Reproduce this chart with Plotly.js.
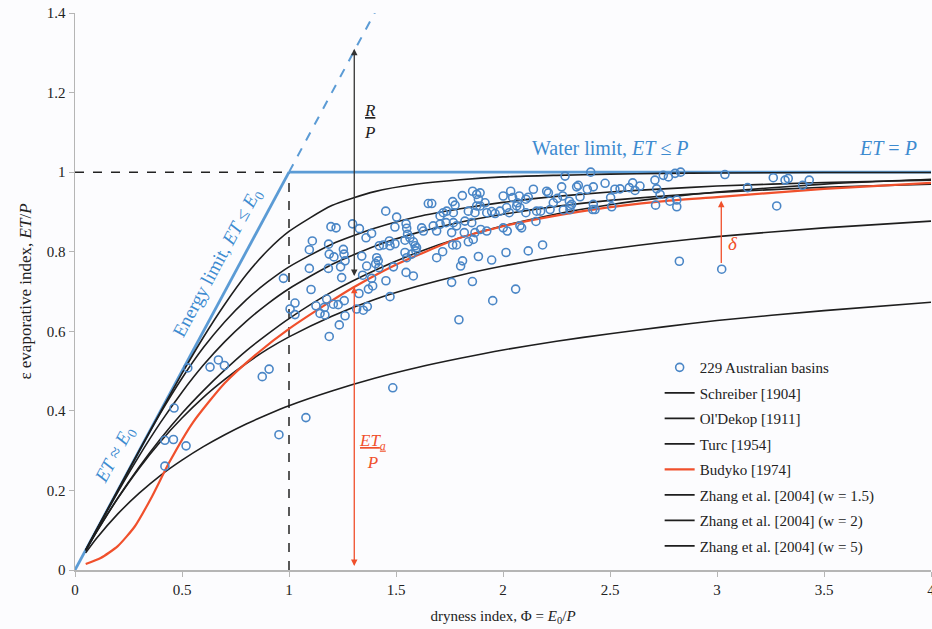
<!DOCTYPE html>
<html><head><meta charset="utf-8">
<script src="https://cdn.plot.ly/plotly-3.0.1.min.js"></script>
<style>html,body{margin:0;padding:0;background:#fcfcfe;}#chart{width:932px;height:629px;}</style>
</head><body><div id="chart"></div>
<script>
// ---- Observed basins (dryness index, evaporative index) ----
const basinPhi = [0.42,0.46,0.42,0.519,0.463,0.527,0.631,0.67,0.698,0.875,0.907,0.953,1.079,1.485,
1.452,1.503,1.196,1.22,1.297,1.329,1.495,1.547,1.55,1.554,1.62,1.628,1.109,1.36,1.386,1.095,1.185,1.188,1.21,1.254,1.257,1.262,1.34,1.422,1.441,1.469,1.472,1.495,1.542,1.565,1.581,1.589,1.593,1.573,1.596,1.542,1.55,1.41,1.417,1.405,1.42,1.363,1.095,1.184,1.241,1.488,1.547,1.581,1.344,1.246,1.386,1.391,1.371,1.453,1.103,1.327,1.472,1.258,1.176,1.028,1.005,1.028,1.126,1.145,1.165,1.168,1.207,1.23,1.316,1.347,1.366,1.262,1.235,1.188,0.974,
1.651,1.667,1.81,1.858,1.877,1.893,1.885,1.765,1.776,2.001,2.036,2.045,2.076,2.067,2.107,2.118,2.142,2.212,2.204,2.254,1.893,1.877,1.916,1.838,1.869,1.924,1.947,1.963,1.986,2.017,2.029,2.064,2.079,1.706,1.721,1.737,1.768,1.674,1.69,1.706,1.734,1.768,1.783,1.822,1.854,2.107,2.157,2.176,2.22,2.235,2.154,2.079,2.087,2.02,2.001,1.924,1.896,1.76,1.819,1.869,1.765,1.783,1.838,1.861,1.718,1.69,1.811,1.802,1.885,1.947,2.014,2.118,2.185,1.76,1.857,2.059,1.952,1.794,
2.41,2.29,2.83,3.037,2.749,2.773,2.804,2.71,2.344,2.352,2.422,2.394,2.477,2.523,2.547,2.59,2.606,2.617,2.64,2.718,2.734,2.274,2.279,2.31,2.313,2.321,2.282,2.313,2.36,2.422,2.43,2.419,2.503,2.508,2.713,2.78,2.812,2.812,2.824,3.022,
3.263,3.318,3.333,3.431,3.4,3.143,3.279];
const basinET = [0.326,0.328,0.261,0.312,0.407,0.508,0.51,0.528,0.514,0.486,0.505,0.34,0.383,0.458,
0.902,0.887,0.863,0.86,0.87,0.858,0.862,0.87,0.859,0.844,0.86,0.852,0.827,0.835,0.846,0.805,0.819,0.794,0.787,0.806,0.794,0.777,0.789,0.815,0.817,0.827,0.815,0.82,0.829,0.835,0.825,0.815,0.802,0.794,0.81,0.798,0.785,0.785,0.777,0.77,0.76,0.764,0.758,0.758,0.762,0.762,0.748,0.739,0.741,0.735,0.733,0.714,0.706,0.727,0.705,0.695,0.687,0.677,0.681,0.671,0.656,0.642,0.664,0.645,0.66,0.641,0.668,0.667,0.656,0.653,0.662,0.639,0.616,0.587,0.733,
0.921,0.921,0.941,0.952,0.944,0.948,0.932,0.926,0.917,0.94,0.952,0.936,0.94,0.923,0.932,0.937,0.957,0.948,0.952,0.934,0.915,0.915,0.923,0.902,0.898,0.898,0.901,0.896,0.902,0.911,0.898,0.915,0.911,0.89,0.898,0.902,0.898,0.865,0.852,0.869,0.873,0.873,0.865,0.877,0.873,0.898,0.902,0.902,0.906,0.923,0.876,0.865,0.86,0.852,0.86,0.852,0.856,0.848,0.848,0.848,0.817,0.817,0.825,0.831,0.8,0.785,0.777,0.764,0.788,0.779,0.798,0.802,0.817,0.723,0.725,0.706,0.677,0.629,
1.0,0.99,1.0,0.994,0.992,0.988,0.997,0.98,0.963,0.967,0.963,0.957,0.972,0.957,0.958,0.961,0.973,0.954,0.965,0.958,0.944,0.963,0.94,0.927,0.915,0.919,0.905,0.906,0.938,0.919,0.906,0.906,0.936,0.913,0.917,0.927,0.93,0.913,0.776,0.756,
0.986,0.98,0.984,0.98,0.967,0.961,0.915];

// ---- Curves read at these dryness indices ----
const curvePhi = [0.05,0.1,0.2,0.3,0.4,0.5,0.6,0.7,0.8,0.9,1.0,1.2,1.4,1.6,1.8,2.0,2.25,2.5,2.75,3.0,3.5,4.0];
const schreiber = [0.049,0.095,0.181,0.259,0.330,0.394,0.451,0.503,0.551,0.593,0.632,0.699,0.753,0.798,0.835,0.865,0.895,0.918,0.936,0.950,0.970,0.982];
const oldekop   = [0.050,0.100,0.200,0.299,0.395,0.482,0.559,0.624,0.679,0.724,0.762,0.819,0.859,0.888,0.908,0.924,0.939,0.950,0.958,0.965,0.974,0.980];
const turc      = [0.050,0.100,0.196,0.287,0.371,0.447,0.515,0.574,0.625,0.669,0.707,0.768,0.814,0.848,0.874,0.894,0.914,0.929,0.940,0.949,0.962,0.970];
const zhang15   = [0.043,0.079,0.141,0.193,0.238,0.276,0.310,0.340,0.367,0.391,0.413,0.450,0.482,0.509,0.532,0.553,0.575,0.594,0.611,0.627,0.652,0.673];
const zhang2    = [0.049,0.095,0.180,0.256,0.323,0.382,0.434,0.479,0.519,0.555,0.586,0.638,0.680,0.713,0.741,0.764,0.788,0.807,0.824,0.838,0.860,0.877];
const zhang5    = [0.050,0.100,0.200,0.300,0.398,0.494,0.585,0.668,0.742,0.803,0.851,0.916,0.951,0.970,0.981,0.988,0.992,0.995,0.997,0.998,0.999,0.999];
const budykoPhi = [0.05,0.12,0.2,0.28,0.36,0.44,0.55,0.7,0.86,1.0,1.18,1.3,1.49,1.8,2.0,2.11,2.42,2.73,3.0,3.5,4.0];
const budyko    = [0.015,0.03,0.06,0.11,0.185,0.27,0.37,0.47,0.548,0.606,0.67,0.71,0.765,0.835,0.864,0.877,0.906,0.926,0.937,0.958,0.973];

// ---- Limits ----
const energyPhi = [0,1];        const energyET = [0,1];
const energyExtPhi = [1,1.45];  const energyExtET = [1,1.45];
const waterPhi = [1,4];         const waterET = [1,1];
const guideHPhi = [0,1];        const guideHET = [1,1];
const guideVPhi = [1,1];        const guideVET = [0,1];

const serif = 'Liberation Serif, Times New Roman, serif';
const blue = '#5b9bd5', blueText = '#3d8bd0', red = '#f0502c', dark = '#1e1e1e';

function curve(name, x, y, color, rank){
  return {type:'scatter', mode:'lines', name:name, x:x, y:y, line:{color:color, width:1.6, shape:'spline', smoothing:0.6},
          legendrank:rank, legendgroup:'g'+rank, hoverinfo:'skip'};
}
const traces = [
  {type:'scatter',mode:'lines',x:guideHPhi,y:guideHET,line:{color:'#222',width:1.5,dash:'dash'},showlegend:false,hoverinfo:'skip'},
  {type:'scatter',mode:'lines',x:guideVPhi,y:guideVET,line:{color:'#222',width:1.5,dash:'dash'},showlegend:false,hoverinfo:'skip'},
  {type:'scatter',mode:'lines',x:energyExtPhi,y:energyExtET,line:{color:blue,width:2,dash:'dash'},showlegend:false,hoverinfo:'skip'},
  {type:'scatter',mode:'lines',x:energyPhi,y:energyET,line:{color:blue,width:2.8},showlegend:false,hoverinfo:'skip'},
  {type:'scatter',mode:'lines',x:waterPhi,y:waterET,line:{color:blue,width:2.8},showlegend:false,hoverinfo:'skip'},
  curve('Schreiber [1904]', curvePhi, schreiber, dark, 2),
  curve("Ol'Dekop [1911]", curvePhi, oldekop, dark, 3),
  curve('Turc [1954]', curvePhi, turc, dark, 4),
  curve('Zhang et al. [2004] (w = 1.5)', curvePhi, zhang15, dark, 6),
  curve('Zhang et al. [2004] (w = 2)', curvePhi, zhang2, dark, 7),
  curve('Zhang et al. [2004] (w = 5)', curvePhi, zhang5, dark, 8),
  Object.assign(curve('Budyko [1974]', budykoPhi, budyko, red, 5), {line:{color:red,width:2.2,shape:'spline',smoothing:0.6}}),
  {type:'scatter',mode:'markers',name:'229 Australian basins',x:basinPhi,y:basinET,legendrank:1,legendgroup:'g1',
   marker:{symbol:'circle',size:8,color:'rgba(255,255,255,0)',line:{color:'#4a86c6',width:1.6}}}
];

const ann = (x,y,text,opts)=>Object.assign({x:x,y:y,xref:'x',yref:'y',text:text,showarrow:false,font:{family:serif,size:20,color:blueText}},opts||{});
const layout = {
  width:932, height:629,
  paper_bgcolor:'#fcfcfe', plot_bgcolor:'#fcfcfe',
  margin:{l:75,r:1,t:13,b:59},
  showlegend:true,
  legend:{x:0.683,y:0.393,xanchor:'left',yanchor:'top',bgcolor:'rgba(0,0,0,0)',font:{family:serif,size:15,color:'#222'},tracegroupgap:3,traceorder:'grouped'},
  xaxis:{range:[0,4],dtick:0.5,tick0:0,showgrid:false,zeroline:false,showline:true,linecolor:'#b5b5b5',linewidth:1.5,
         ticks:'outside',ticklen:5,tickcolor:'#b5b5b5',ticklabeloverflow:'allow',tickfont:{family:serif,size:15,color:'#222'},
         title:{text:'dryness index, Φ = <i>E</i><sub>0</sub>/<i>P</i>',font:{family:serif,size:15,color:'#222'},standoff:14}},
  yaxis:{range:[0,1.4],dtick:0.2,tick0:0,showgrid:false,zeroline:false,showline:true,linecolor:'#b5b5b5',linewidth:1.5,
         ticks:'outside',ticklen:5,tickcolor:'#b5b5b5',tickfont:{family:serif,size:15,color:'#222'},
         title:{text:'ε evaporative index, <i>ET</i>/<i>P</i>',font:{family:serif,size:17,color:'#222'},standoff:11}},
  annotations:[
    ann(2.5,1.06,'Water limit, <i>ET</i> ≤ <i>P</i>'),
    ann(3.8,1.06,'<i>ET</i> = <i>P</i>'),
    ann(0.668,0.772,'Energy limit, <i>ET</i> ≤ <i>E</i><sub>0</sub>',{textangle:-61.8,font:{family:serif,size:19,color:blueText}}),
    ann(0.187,0.29,'<i>ET</i> ≈ <i>E</i><sub>0</sub>',{textangle:-61.8,font:{family:serif,size:19,color:blueText}}),
    ann(1.38,1.128,'<i><u>R</u></i><br><i>P</i>',{font:{family:serif,size:17,color:'#222'}}),
    ann(1.39,0.298,'<i><u>ET<sub>a</sub></u></i><br><i>P</i>',{font:{family:serif,size:17,color:red}}),
    ann(3.075,0.82,'<i>δ</i>',{font:{family:serif,size:19,color:red}}),
    {x:1.305,y:1.31,ax:1.305,ay:0.735,xref:'x',yref:'y',axref:'x',ayref:'y',text:'',showarrow:true,arrowhead:2,startarrowhead:2,arrowside:'end+start',arrowsize:1,arrowwidth:1.3,arrowcolor:'#333',standoff:0,startstandoff:0},
    {x:1.305,y:0.712,ax:1.305,ay:0.006,xref:'x',yref:'y',axref:'x',ayref:'y',text:'',showarrow:true,arrowhead:2,startarrowhead:2,arrowside:'end+start',arrowsize:1,arrowwidth:1.3,arrowcolor:red,standoff:0,startstandoff:0},
    {x:3.02,y:0.928,ax:3.02,ay:0.768,xref:'x',yref:'y',axref:'x',ayref:'y',text:'',showarrow:true,arrowhead:2,arrowsize:1,arrowwidth:1.3,arrowcolor:red,standoff:0}
  ]
};
Plotly.newPlot('chart', traces, layout, {displayModeBar:false, staticPlot:true});
</script></body></html>
